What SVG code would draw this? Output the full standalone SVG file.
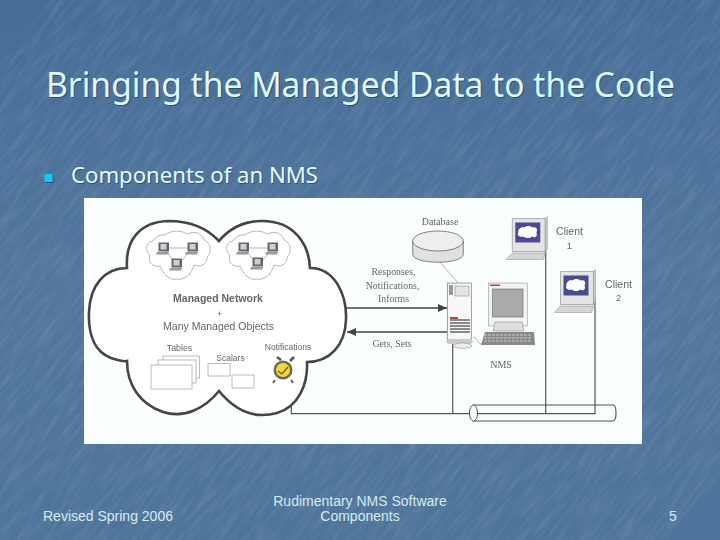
<svg xmlns="http://www.w3.org/2000/svg" xmlns:xlink="http://www.w3.org/1999/xlink" width="720" height="540" viewBox="0 0 720 540">
<style>
.title{font:35px "Noto Sans",sans-serif;fill:#dff8f8}
.body{font:22px "Noto Sans",sans-serif;fill:#e6fbfb}
.foot{font:14px "Liberation Sans",Arial,sans-serif;fill:#d5ebf0}
.shadow{fill:#2f4f74}
.ss{font-family:"Liberation Sans",Arial,sans-serif;fill:#666;text-anchor:middle}
.sf{font-family:"Liberation Serif","Times New Roman",serif;fill:#666;text-anchor:middle}
.ln{fill:none;stroke:#555;stroke-width:1.2}
.arr{fill:none;stroke:#444;stroke-width:1.6}
.thin{fill:none;stroke:#888;stroke-width:.6}
.box{fill:#fff;stroke:#aaa;stroke-width:.8}
.pc{fill:#e4e4e4;stroke:#888;stroke-width:.6}
</style>
<defs>
<linearGradient id="bg" x1="0" y1="0" x2="0" y2="1"><stop offset="0" stop-color="#466d98"/><stop offset=".5" stop-color="#52769d"/><stop offset="1" stop-color="#4f749b"/></linearGradient>
<filter id="tex" x="0" y="0" width="100%" height="100%"><feTurbulence type="fractalNoise" baseFrequency="0.03 0.22" numOctaves="3" seed="7"/><feColorMatrix values="0 0 0 0 .75  0 0 0 0 .82  0 0 0 0 .9  1.5 0 0 0 -.6"/></filter>
<filter id="soft" x="-5%" y="-5%" width="110%" height="110%"><feGaussianBlur stdDeviation=".4"/></filter>
<filter id="bshadow" x="-30%" y="-30%" width="170%" height="170%"><feDropShadow dx="1" dy="1" stdDeviation=".6" flood-color="#2b4a6e"/></filter>
<marker id="ah" markerUnits="userSpaceOnUse" markerWidth="10" markerHeight="9" refX="9" refY="4" orient="auto-start-reverse"><path d="M0,0L9,4L0,8z" fill="#444"/></marker>
<g id="laptop"><rect x="-5.500" y="-7.500" width="10.500" height="9" fill="#666"/><rect x="-3.500" y="-6" width="6" height="5.500" fill="#ccd"/><path d="M-7,2H5L4,4.500H-8z" fill="#999"/></g>
<g id="client"><path d="M0,0H33V33H0z" class="pc"/><path d="M33,0L35,-2V30L33,33z" fill="#ccc" stroke="#888" stroke-width=".5"/><rect x="3" y="4" width="25" height="20" fill="#4c4c92"/><path d="M6,14C5,10 10,8 12,9C14,7 18,7 20,9C24,8 26,11 24,14C26,18 22,20 20,18C17,20 14,20 11,18C8,19 4,17 6,14z" fill="#fff"/><path d="M-6,41L0,34.500H33L31,41z" fill="#d5d5d5" stroke="#888" stroke-width=".5"/></g>
</defs>
<rect width="720" height="540" fill="url(#bg)"/>
<g transform="rotate(-52 360 270)"><rect x="-140" y="-140" width="1000" height="820" filter="url(#tex)" opacity=".16"/></g>
<text class="title shadow" x="47" y="98" textLength="629" lengthAdjust="spacingAndGlyphs">Bringing the Managed Data to the Code</text>
<text class="title" x="46" y="97" textLength="629" lengthAdjust="spacingAndGlyphs">Bringing the Managed Data to the Code</text>
<rect x="44.500" y="174" width="8" height="8" fill="#19c6f5" filter="url(#bshadow)"/>
<text class="body shadow" x="71.800" y="183.800" textLength="247" lengthAdjust="spacingAndGlyphs">Components of an NMS</text>
<text class="body" x="71" y="183" textLength="247" lengthAdjust="spacingAndGlyphs">Components of an NMS</text>
<rect x="84" y="198" width="558" height="246" fill="#fbfefe"/>
<g id="connectors" filter="url(#soft)">
<path class="arr" d="M346,308H447" marker-end="url(#ah)"/>
<path class="arr" d="M347,332H447" marker-start="url(#ah)"/>
<path class="ln" d="M291.300,398V413.700H473"/>
<path class="ln" d="M452.700,341V413.700"/>
<path class="ln" d="M545.700,248V413.700"/>
<path class="ln" d="M595,298V413.700H476"/>
<path class="thin" d="M439,261L458,283"/>
<path class="thin" d="M473,337C478,338 478,344 482,344"/>
</g>
<g id="managed-network" filter="url(#soft)">
<path fill="#fff" stroke="#444" stroke-width="2.600" d="M219,241C205,226 185,221 168,221C140,222 125,240 127,268C105,268 90,285 89,312C88,335 95,352 111,358C124,362 127,361 127,361C127,385 140,404 163,412C185,419 205,408 219,391C233,408 252,420 277,413C298,407 308,385 307,362C330,362 345,345 346,320C347,295 335,268 310,268C309,245 295,221 262,221C243,221 229,229 219,241z"/>
<g id="subnet-a">
<path class="thin" d="M165,235C172,230 181,230 187,234C195,230 203,234 204,240C211,243 212,252 207,257C208,264 200,268 194,265C192,274 184,281 177,279C170,281 163,274 160,266C153,268 147,262 150,255C144,250 146,242 153,241C155,237 160,234 165,235z"/>
<path class="thin" d="M164,248H193M164,248L177,266M193,248L177,266"/>
<use xlink:href="#laptop" x="164" y="250"/><use xlink:href="#laptop" x="193" y="250"/><use xlink:href="#laptop" x="177" y="266"/>
</g>
<g id="subnet-b">
<path class="thin" d="M245,235C252,230 261,230 267,234C275,230 283,234 284,240C291,243 292,252 287,257C288,264 280,268 274,265C272,274 264,281 257,279C250,281 243,274 240,266C233,268 227,262 230,255C224,250 226,242 233,241C235,237 240,234 245,235z"/>
<path class="thin" d="M244,248H273M244,248L258,266M273,248L258,266"/>
<use xlink:href="#laptop" x="244" y="250"/><use xlink:href="#laptop" x="273" y="250"/><use xlink:href="#laptop" x="258" y="265"/>
</g>
<text class="ss" x="218" y="302" font-size="10.500" font-weight="bold">Managed Network</text>
<text class="ss" x="219.500" y="317" font-size="8.500">+</text>
<text class="ss" x="218.500" y="330" font-size="10.500">Many Managed Objects</text>
<text class="ss" x="179.500" y="351" font-size="8.800">Tables</text>
<text class="ss" x="230.500" y="361" font-size="8.500">Scalars</text>
<text class="ss" x="288" y="350" font-size="8.500">Notifications</text>
<rect class="box" x="163" y="356" width="36.500" height="22"/>
<rect class="box" x="158" y="360" width="38" height="23"/>
<rect class="box" x="151" y="365" width="41" height="24"/>
<rect class="box" x="208" y="363.500" width="22" height="12.500"/>
<rect class="box" x="232" y="375" width="22" height="13"/>
<g id="clock"><path d="M277,357L281,360M294,357L290,361" stroke="#555" stroke-width="2.500"/><circle cx="283" cy="370" r="9.500" fill="#6a6a5a"/><circle cx="283" cy="370" r="7" fill="#f2d92f"/><path d="M278,371L282,374L288,367" fill="none" stroke="#555" stroke-width="1.200"/><path d="M275,380l-2,3M291,380l2,3" stroke="#555" stroke-width="1.800"/></g>
</g>
<g id="database" filter="url(#soft)">
<path stroke="#666" stroke-width=".8" d="M412.700,241V254C412.700,265 463.300,265 463.300,254V241" fill="#e0e0e0"/>
<ellipse cx="438" cy="241" rx="25.300" ry="10" fill="#eeeeee" stroke="#666" stroke-width=".8"/>
<text class="sf" x="440" y="225" font-size="10">Database</text>
</g>
<g id="nms" filter="url(#soft)">
<rect x="447.300" y="283" width="24" height="57" fill="#f8f8f8" stroke="#777" stroke-width=".7"/>
<rect x="455" y="286" width="14" height="10" fill="#e4e4e4" stroke="#777" stroke-width=".5"/>
<rect x="449" y="285" width="4" height="10" fill="#999"/>
<path d="M450,320H470M450,323H470M450,326H470M450,329H470M450,332H470" stroke="#666" stroke-width="1.300"/>
<rect x="450" y="317" width="8" height="2" fill="#b44"/>
<path d="M445,341H474L471,344H448z" fill="#ccc"/>
<path d="M453,346C455,342 470,342 472,346C470,349 455,349 453,346z" fill="#eee" stroke="#777" stroke-width=".5"/>
<rect x="488.300" y="283" width="39" height="43" fill="#f2f2f2" stroke="#999" stroke-width=".6"/>
<rect x="492.500" y="289" width="30.500" height="28" fill="#aaa" stroke="#666" stroke-width=".6"/>
<rect x="490" y="284.500" width="10" height="1.500" fill="#b44"/>
<path d="M495,322H522L524,331H493z" fill="#ddd" stroke="#777" stroke-width=".5"/>
<path d="M485,332H534L535,345H481z" fill="#888"/>
<path d="M484,335H531M484,338H531M484,341H531" stroke="#ccc" stroke-width="1" stroke-dasharray="3 1"/>
<text class="sf" x="501" y="368" font-size="10">NMS</text>
</g>
<g id="client-1" filter="url(#soft)">
<use xlink:href="#client" x="512.300" y="218.500"/>
<text class="ss" x="569.500" y="235" font-size="10.500">Client</text>
<text class="ss" x="569.500" y="249" font-size="9.500">1</text>
</g>
<g id="client-2" filter="url(#soft)">
<use xlink:href="#client" x="560.500" y="271.500"/>
<text class="ss" x="618.500" y="288" font-size="10.500">Client</text>
<text class="ss" x="618.500" y="301" font-size="9">2</text>
</g>
<g id="pipe" filter="url(#soft)">
<path class="ln" d="M473,405H613C617,405 617,421 613,421H473" stroke-width=".9"/>
<ellipse cx="473.500" cy="413" rx="4" ry="8" fill="#fff" stroke="#555"/>
</g>
<g id="labels" filter="url(#soft)">
<text class="sf" x="393.500" y="275" font-size="9.800">Responses,</text>
<text class="sf" x="392.500" y="288.500" font-size="9.800">Notifications,</text>
<text class="sf" x="393.500" y="302" font-size="9.800">Informs</text>
<text class="sf" x="392" y="347" font-size="9.800">Gets, Sets</text>
</g>
<text class="foot" x="43" y="521">Revised Spring 2006</text>
<text class="foot" x="360" y="505.500" text-anchor="middle">Rudimentary NMS Software</text>
<text class="foot" x="360" y="521" text-anchor="middle">Components</text>
<text class="foot" x="669" y="521">5</text>
</svg>
